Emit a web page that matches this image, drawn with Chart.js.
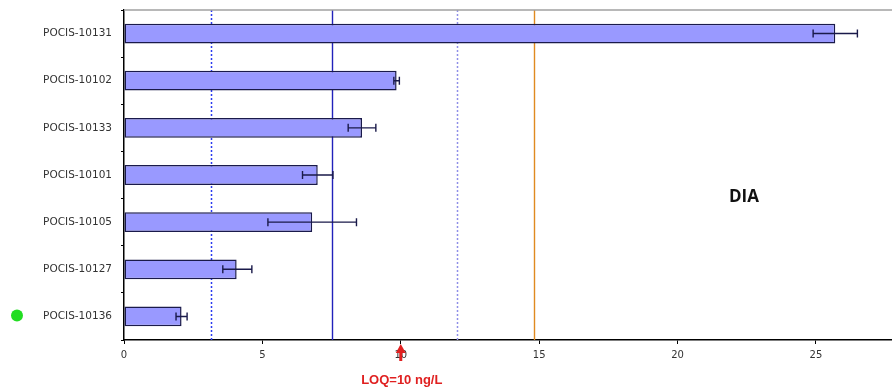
<!DOCTYPE html>
<html><head><meta charset="utf-8">
<script src="https://cdn.jsdelivr.net/npm/chart.js@4"></script>
<style>html,body{margin:0;padding:0;background:#fff}#wrap{width:892px;height:389px;position:relative}</style>
</head><body><div id="wrap"><canvas id="c" width="892" height="389"></canvas></div>
<script>
const categories = ["POCIS-10131","POCIS-10102","POCIS-10133","POCIS-10101","POCIS-10105","POCIS-10127","POCIS-10136"];
const values = [25.7, 9.85, 8.6, 7.0, 6.8, 4.07, 2.08];
const errLow = [24.9, 9.75, 8.1, 6.45, 5.2, 3.57, 1.88];
const errHigh = [26.5, 9.95, 9.1, 7.55, 8.4, 4.62, 2.28];
const refLines = [3.15, 7.5, 12.05, 14.8];
const refColors = ["#2b3bf0", "#2222bb", "#8f8fe8", "#e08a20"];
const refDashed = [true, false, true, false];
const xTicks = [0, 5, 10, 15, 20, 25];
const loqValue = 10;
const loqLabel = "LOQ=10 ng/L";
const panelLabel = "DIA";
const markedCategory = "POCIS-10136";

const overlay = {
  id: 'overlay',
  beforeDatasetsDraw(chart) {
    const {ctx, chartArea: a, scales: {x}} = chart;
    ctx.save();
    refLines.forEach((v, i) => {
      const px = Math.round(x.getPixelForValue(v)) + 0.5;
      ctx.strokeStyle = refColors[i];
      ctx.lineWidth = refDashed[i] ? 1.5 : 1.4;
      ctx.setLineDash(refDashed[i] ? [2, 2] : []);
      ctx.beginPath(); ctx.moveTo(px, a.top); ctx.lineTo(px, a.bottom); ctx.stroke();
    });
    ctx.restore();
  },
  afterDatasetsDraw(chart) {
    const {ctx, chartArea: a, scales: {x, y}} = chart;
    ctx.save();
    ctx.setLineDash([]);
    ctx.strokeStyle = "#1a1a4a"; ctx.lineWidth = 1.4;
    values.forEach((v, i) => {
      const cy = y.getPixelForValue(i);
      const x1 = x.getPixelForValue(errLow[i]), x2 = x.getPixelForValue(errHigh[i]);
      ctx.beginPath();
      ctx.moveTo(x1, cy); ctx.lineTo(x2, cy);
      ctx.moveTo(x1, cy - 4); ctx.lineTo(x1, cy + 4);
      ctx.moveTo(x2, cy - 4); ctx.lineTo(x2, cy + 4);
      ctx.stroke();
    });
    // top border
    ctx.strokeStyle = "#a0a0a0"; ctx.lineWidth = 1.5;
    ctx.beginPath(); ctx.moveTo(a.left, a.top); ctx.lineTo(a.right, a.top); ctx.stroke();
    // DIA label
    ctx.fillStyle = "#111";
    ctx.font = "bold 17px 'Open Sans', Arial, sans-serif";
    ctx.textAlign = "center"; ctx.textBaseline = "middle";
    ctx.fillText(panelLabel, x.getPixelForValue(22.4), y.getPixelForValue(3.5) - 1);
    // LOQ arrow and label
    const lx = x.getPixelForValue(loqValue);
    ctx.fillStyle = "#e02020"; ctx.strokeStyle = "#e02020"; ctx.lineWidth = 3;
    ctx.beginPath(); ctx.moveTo(lx, a.bottom + 21); ctx.lineTo(lx, a.bottom + 10); ctx.stroke();
    ctx.beginPath(); ctx.moveTo(lx, a.bottom + 4); ctx.lineTo(lx - 5, a.bottom + 13); ctx.lineTo(lx + 5, a.bottom + 13); ctx.closePath(); ctx.fill();
    ctx.font = "bold 13px Arial, 'Liberation Sans', sans-serif";
    ctx.fillText(loqLabel, lx + 1, a.bottom + 40);
    // green marker
    const gy = y.getPixelForValue(categories.indexOf(markedCategory));
    ctx.fillStyle = "#22dd22";
    ctx.beginPath(); ctx.arc(17, gy - 1, 6, 0, Math.PI * 2); ctx.fill();
    ctx.restore();
  }
};

new Chart(document.getElementById('c'), {
  type: 'bar',
  data: {
    labels: categories,
    datasets: [{
      data: values,
      backgroundColor: "#9999ff",
      borderColor: "#1a1a4a",
      borderWidth: 1.5,
      borderSkipped: false,
      categoryPercentage: 0.42,
      barPercentage: 1
    }]
  },
  options: {
    indexAxis: 'y',
    responsive: false,
    animation: false,
    layout: {padding: {top: 10, right: 0, left: 0, bottom: 0}},
    plugins: {legend: {display: false}, tooltip: {enabled: false}},
    scales: {
      x: {
        min: 0, max: 27.75,
        afterBuildTicks: ax => { ax.ticks = xTicks.map(v => ({value: v})); },
        afterFit: ax => { ax.height = 49; ax.paddingLeft = 0; ax.paddingRight = 0; },
        grid: {drawOnChartArea: false, drawTicks: true, tickLength: 4, color: "#000", tickColor: "#000"},
        border: {color: "#000", width: 1.5},
        ticks: {color: "#333", font: {size: 10, family: "'DejaVu Sans', Arial"}, padding: 5, maxRotation: 0}
      },
      y: {
        afterFit: ax => { ax.width = 124; ax.paddingTop = 0; ax.paddingBottom = 0; },
        grid: {offset: true, drawOnChartArea: false, tickLength: 3, color: "#000", tickColor: "#000"},
        border: {color: "#000", width: 1.5},
        ticks: {color: "#333", font: {size: 10.5, family: "'DejaVu Sans', Arial"}, padding: 9}
      }
    }
  },
  plugins: [overlay]
});
</script></body></html>
